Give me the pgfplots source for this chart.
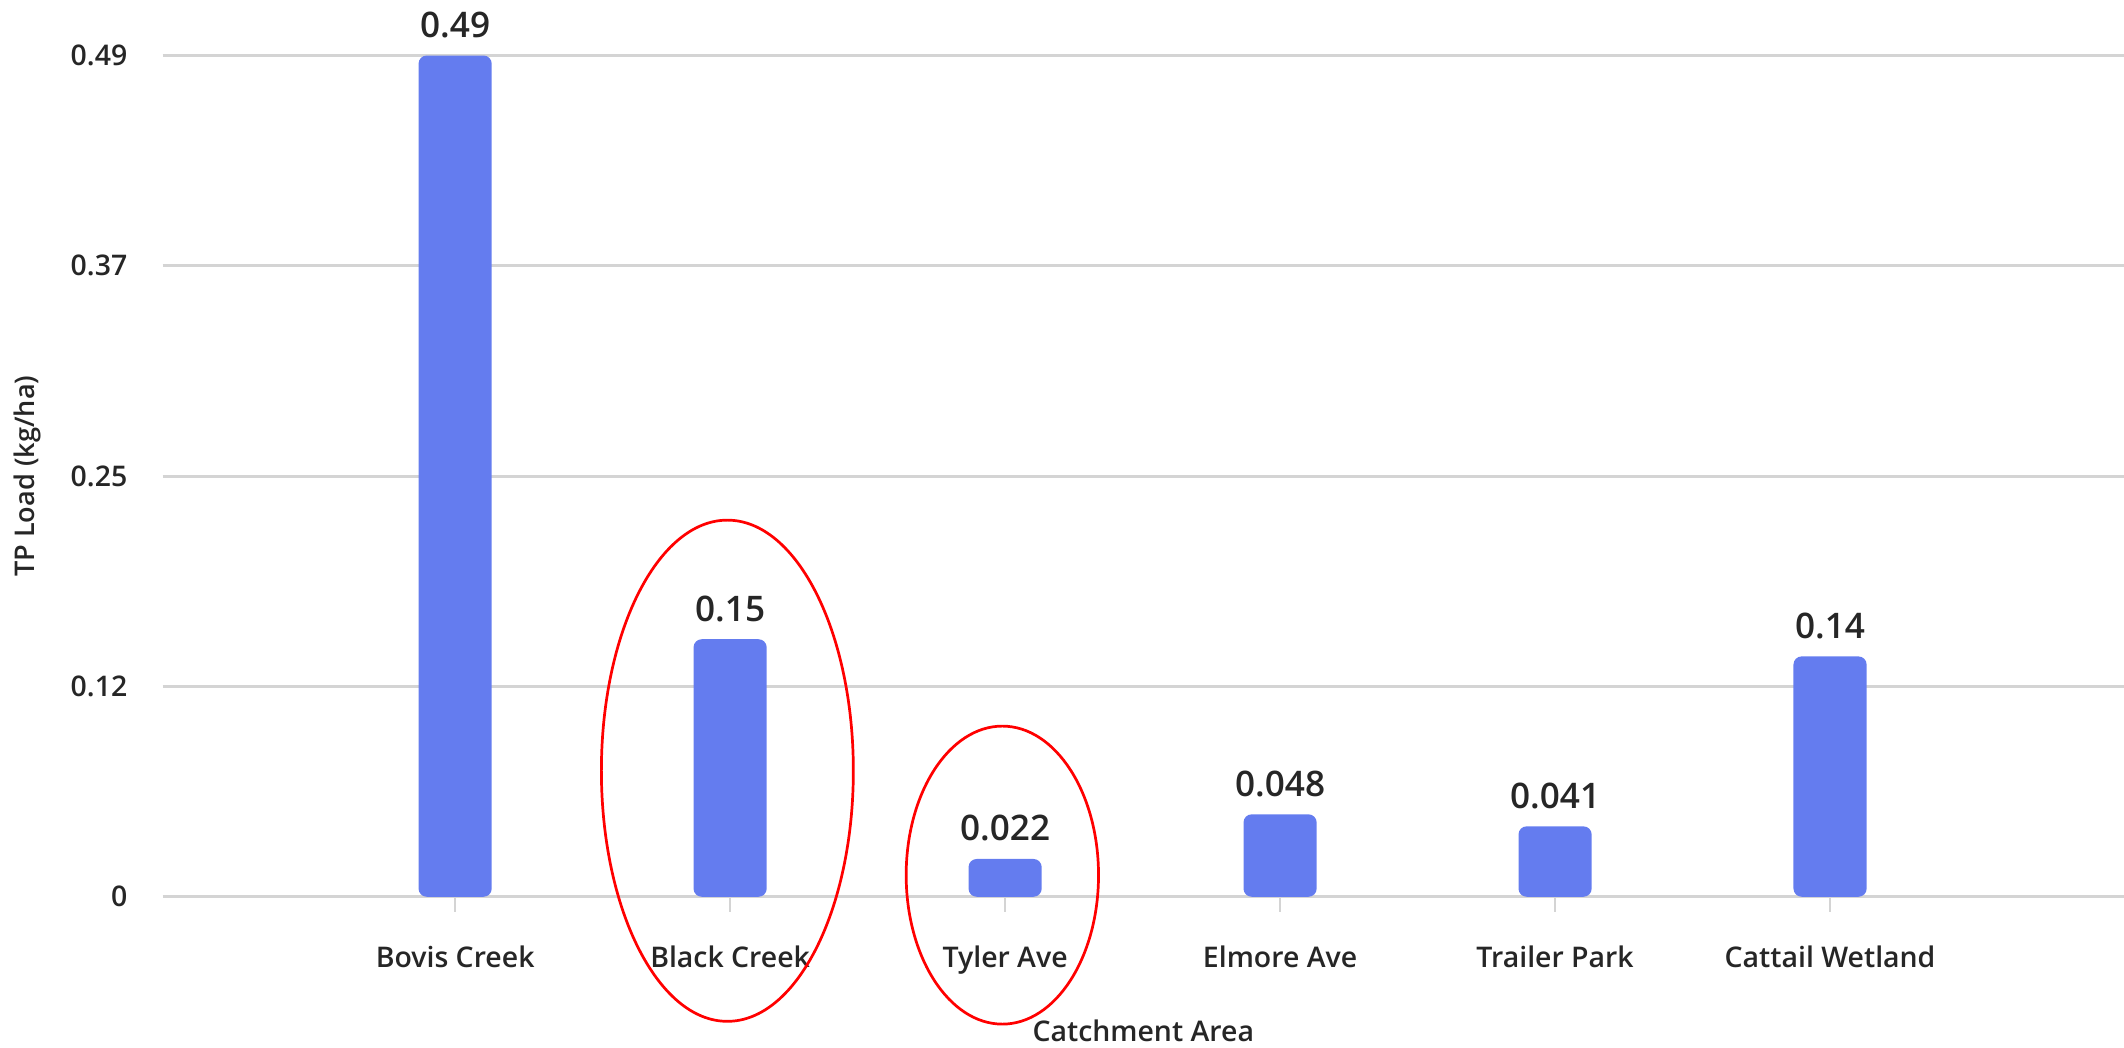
\documentclass[border=0pt]{standalone}
\usepackage{pgfplots}
\pgfplotsset{compat=1.18}
\usepackage{fontspec}
\setmainfont{Open Sans}
\newfontfamily\sbf{Open Sans Semibold}
\definecolor{barblue}{RGB}{100,124,239}
\definecolor{gridgray}{RGB}{212,212,212}
\definecolor{txt}{RGB}{38,38,38}
\begin{document}
\begin{tikzpicture}
\useasboundingbox (0,0) rectangle (784pt,386.5pt);
\begin{axis}[
  at={(60pt,55.5pt)}, anchor=south west,
  scale only axis, width=724pt, height=310.5pt,
  xmin=-1.064, xmax=6.069, ymin=0, ymax=0.49,
  axis line style={draw=none},
  xtick={0,1,2,3,4,5},
  xtick pos=lower,
  xticklabels={Bovis Creek,Black Creek,Tyler Ave,Elmore Ave,Trailer Park,Cattail Wetland},
  ytick={0,0.1225,0.245,0.3675,0.49},
  yticklabels={0,0.12,0.25,0.37,0.49},
  ymajorgrids, grid style={gridgray, line width=1pt},
  tick align=outside, major tick length=5.5pt,
  x tick style={gridgray, line width=1pt},
  y tick style={draw=none},
  xticklabel style={font=\sbf\fontsize{10.5}{12}\selectfont, text=txt, yshift=-9pt},
  yticklabel style={font=\sbf\fontsize{10.5}{12}\selectfont, text=txt, xshift=-4pt},
  xlabel={Catchment Area}, ylabel={TP Load (kg/ha)},
  xlabel style={font=\sbf\fontsize{10.5}{12}\selectfont, text=txt, at={(axis description cs:0.5,-0.159)}, anchor=center},
  ylabel style={font=\sbf\fontsize{10}{12}\selectfont, text=txt, at={(axis description cs:-0.069,0.5)}, anchor=center},
  clip=false,
]
\addplot[ybar, bar width=27pt, fill=barblue, draw=none, rounded corners=3pt,
  point meta=explicit symbolic,
  nodes near coords,
  nodes near coords style={font=\sbf\fontsize{13}{15}\selectfont, text=txt, anchor=south, yshift=3pt}]
  table[meta=lab] {
x y lab
0 0.49 0.49
1 0.15 0.15
2 0.022 0.022
3 0.048 0.048
4 0.041 0.041
5 0.14 0.14
};
\draw[red, line width=1pt] (axis cs:0.99,0.0734) ellipse [x radius=46.5pt, y radius=92.5pt];
\draw[red, line width=1pt] (axis cs:1.99,0.0126) ellipse [x radius=35.5pt, y radius=55pt];
\end{axis}
\end{tikzpicture}
\end{document}
